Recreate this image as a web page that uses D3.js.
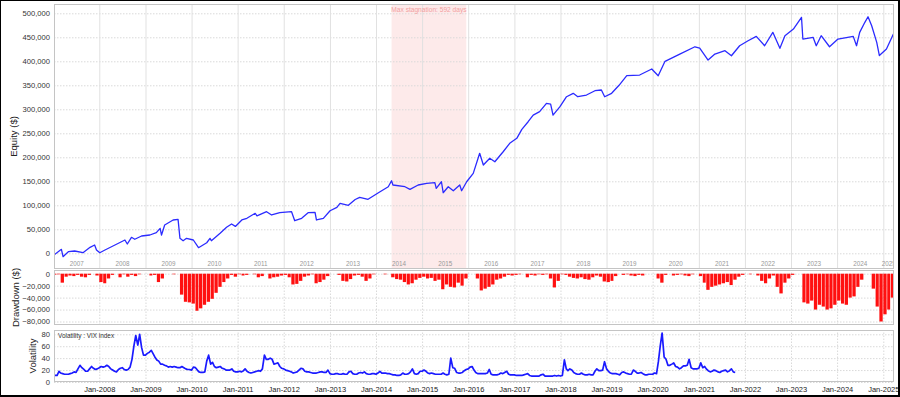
<!DOCTYPE html>
<html>
<head>
<meta charset="utf-8">
<script src="https://cdn.jsdelivr.net/npm/d3@7"></script>
<style>
body { margin: 0; background: #fff; }
svg { display: block; font-family: "Liberation Sans", Arial, sans-serif; }
</style>
</head>
<body>
<svg id="chart"></svg>
<script>
// equity curve: [date, equity $]
const equity = [
	['2007-01-07', -3500], ['2007-03-07', 8300], ['2007-03-20', -7000], ['2007-05-01', 3300], ['2007-06-20', 4800],
	['2007-08-25', 1200], ['2007-10-20', 12500], ['2007-11-25', 17300], ['2007-12-10', 6900], ['2008-01-05', 1200],
	['2008-02-15', 6900], ['2008-05-20', 19400], ['2008-07-22', 27700], ['2008-08-10', 19400], ['2008-09-12', 33300],
	['2008-10-08', 29200], ['2008-12-01', 36000], ['2009-02-05', 38100], ['2009-03-28', 43000], ['2009-04-27', 52000],
	['2009-05-08', 38100], ['2009-06-02', 59000], ['2009-08-08', 69400], ['2009-09-16', 70800], ['2009-10-01', 31200],
	['2009-10-26', 26200], ['2009-11-22', 31200], ['2010-01-15', 27700], ['2010-02-25', 11700], ['2010-05-01', 22000],
	['2010-05-27', 31200], ['2010-06-07', 26200], ['2010-08-15', 41700], ['2010-10-05', 54200], ['2010-11-14', 61000],
	['2010-12-14', 56000], ['2011-02-03', 69400], ['2011-03-15', 72900], ['2011-05-20', 83300], ['2011-06-03', 78000],
	['2011-08-18', 86700], ['2011-09-27', 79800], ['2011-12-01', 84600], ['2012-03-03', 86700], ['2012-03-28', 67900],
	['2012-05-22', 72900], ['2012-07-12', 84600], ['2012-09-05', 85400], ['2012-09-16', 69400], ['2012-11-10', 72900],
	['2013-01-02', 88700], ['2013-02-25', 95800], ['2013-03-22', 104000], ['2013-05-27', 100000], ['2013-07-20', 112000],
	['2013-08-25', 116600], ['2013-10-30', 112500], ['2014-01-20', 126200], ['2014-04-08', 138700], ['2014-05-04', 151200],
	['2014-05-15', 142300], ['2014-08-18', 138700], ['2014-09-27', 133300], ['2014-12-01', 142300], ['2015-02-06', 145800],
	['2015-04-12', 147100], ['2015-04-23', 135400], ['2015-06-03', 149100], ['2015-06-17', 126200], ['2015-07-27', 138700],
	['2015-09-05', 130400], ['2015-10-26', 142300], ['2015-11-10', 130400], ['2015-12-20', 149100], ['2016-02-10', 166600],
	['2016-04-01', 208300], ['2016-04-30', 183900], ['2016-06-20', 197900], ['2016-07-30', 190800], ['2016-10-04', 211600],
	['2016-11-25', 229100], ['2017-01-20', 239500], ['2017-03-01', 258300], ['2017-04-20', 274100], ['2017-05-30', 288000],
	['2017-07-20', 295000], ['2017-09-12', 312400], ['2017-10-15', 311000], ['2017-11-03', 288000], ['2017-12-28', 305400],
	['2018-02-18', 326200], ['2018-04-12', 333300], ['2018-05-18', 326200], ['2018-07-26', 329700], ['2018-10-01', 338700],
	['2018-11-21', 340200], ['2018-12-17', 326200], ['2019-02-10', 333300], ['2019-04-10', 350000], ['2019-06-10', 370000],
	['2019-09-20', 371400], ['2019-12-25', 383900], ['2020-02-14', 370000], ['2020-04-08', 400000], ['2020-08-03', 415100],
	['2020-12-01', 430300], ['2021-01-08', 427600], ['2021-03-15', 402600], ['2021-05-08', 415100], ['2021-07-27', 422000],
	['2021-09-16', 411600], ['2021-11-20', 432400], ['2022-01-26', 442800], ['2022-04-01', 452000], ['2022-06-06', 432400],
	['2022-08-10', 460300], ['2022-10-05', 427000], ['2022-11-14', 453300], ['2023-01-20', 467200], ['2023-03-25', 491600],
	['2023-04-05', 446400], ['2023-06-25', 449900], ['2023-07-20', 432400], ['2023-08-28', 453300], ['2023-11-02', 430300],
	['2024-01-08', 446400], ['2024-05-08', 452000], ['2024-06-03', 432400], ['2024-06-28', 460300], ['2024-08-08', 481200],
	['2024-09-02', 492800], ['2024-10-01', 474100], ['2024-11-10', 439500], ['2024-12-01', 412000], ['2025-01-26', 425500],
	['2025-03-22', 456800]
]

// monthly drawdown ($), one row per year, starting Jan 2007
const drawdownStart = '2007-01-01'
const drawdown = [
	-1500, -1000, -15000, -5000, -3000, -4000, -2000, -5000, -6000, -2000, 0, -3000,
	-14000, -16000, -8000, -2000, 0, -6000, -1000, -5000, -2000, -4000, -1000, 0,
	0, -3000, -2000, -14000, -8000, 0, 0, -1000, 0, -35000, -47000, -48000,
	-50000, -62000, -58000, -52000, -47000, -42000, -32000, -22000, -14000, -8000, -2000, -5000,
	-1000, -3000, -2000, 0, -1000, -6000, -4000, 0, -8000, -6000, -5000, -3000,
	-2000, -6000, -18000, -17000, -12000, -5000, -3000, -1000, -16000, -14000, -10000, -4000,
	0, 0, -2000, -12000, -13000, -9000, -3000, -2000, -5000, -12000, -8000, -1000,
	0, 0, -1000, 0, -6000, -9000, -10000, -14000, -18000, -16000, -10000, -7000,
	-5000, -8000, -7000, -12000, -10000, -26000, -18000, -22000, -23000, -15000, -20000, -8000,
	0, 0, -8000, -28000, -25000, -22000, -18000, -10000, -8000, -5000, -2000, -3000,
	-2000, -1000, 0, -6000, -2000, -3000, -1000, -2000, -1000, -8000, -23000, -12000,
	-1000, -2000, -5000, -7000, -8000, -6000, -9000, -10000, -6000, -3000, -5000, -13000,
	-14000, -12000, -4000, 0, -2000, -1000, -3000, -4000, -2000, -3000, 0, 0,
	0, -8000, -15000, -2000, 0, -3000, -2000, -1000, -3000, -4000, -1000, 0,
	-4000, -15000, -27000, -22000, -20000, -18000, -16000, -14000, -19000, -10000, -5000, -2000,
	0, -1000, 0, -3000, -12000, -16000, -8000, -3000, -22000, -33000, -15000, -8000,
	-2000, 0, 0, -48000, -50000, -45000, -60000, -52000, -55000, -60000, -58000, -52000,
	-45000, -50000, -52000, -40000, -38000, -22000, -10000, 0, 0, -25000, -55000, -80000,
	-68000, -60000, -40000
]

// VIX index, two readings a month (1st and 16th), one row per year, starting Jan 2007
const vixStart = '2007-01-01'
const vix = [
	11, 11, 11, 18, 15, 14, 13, 13, 13, 14, 15, 17, 16, 22, 28, 24, 21, 18, 18, 22, 26, 23, 21, 22,
	24, 26, 25, 26, 28, 26, 22, 20, 18, 17, 21, 23, 24, 21, 20, 21, 25, 38, 60, 78, 62, 80, 58, 45,
	45, 48, 50, 53, 48, 42, 37, 35, 30, 30, 28, 27, 25, 26, 25, 26, 25, 24, 24, 26, 24, 22, 21, 21,
	20, 25, 24, 20, 17, 16, 16, 17, 35, 45, 30, 33, 26, 24, 25, 26, 23, 22, 20, 20, 20, 22, 18, 17,
	17, 18, 17, 19, 22, 18, 16, 15, 16, 17, 18, 19, 18, 22, 45, 38, 38, 40, 38, 30, 31, 32, 26, 23,
	22, 20, 19, 18, 17, 15, 16, 17, 20, 23, 22, 18, 17, 17, 16, 15, 15, 15, 16, 17, 17, 16, 16, 20,
	14, 13, 13, 14, 14, 13, 13, 14, 13, 13, 17, 18, 14, 13, 13, 15, 16, 15, 17, 14, 13, 13, 14, 14,
	13, 15, 18, 15, 15, 15, 14, 14, 13, 12, 12, 11, 11, 12, 15, 13, 13, 14, 17, 22, 14, 13, 14, 18,
	18, 20, 18, 15, 14, 15, 14, 13, 13, 13, 13, 15, 13, 12, 13, 40, 24, 23, 16, 15, 15, 16, 19, 21,
	22, 25, 26, 20, 16, 14, 14, 14, 14, 14, 15, 21, 13, 12, 12, 12, 13, 15, 14, 16, 18, 13, 12, 12,
	12, 11, 11, 11, 11, 12, 13, 14, 11, 10, 10, 10, 10, 10, 12, 13, 10, 10, 10, 10, 10, 11, 10, 11,
	10, 11, 37, 22, 19, 22, 20, 16, 14, 13, 13, 15, 13, 12, 12, 13, 12, 12, 18, 22, 19, 19, 20, 34,
	22, 18, 15, 14, 14, 14, 13, 12, 16, 17, 15, 14, 13, 13, 20, 18, 15, 15, 16, 14, 12, 12, 13, 13,
	13, 15, 14, 35, 60, 82, 42, 38, 28, 28, 30, 32, 26, 25, 22, 24, 27, 27, 28, 38, 24, 22, 22, 22,
	23, 32, 24, 26, 22, 19, 17, 18, 20, 19, 17, 16, 18, 19, 20, 17, 19, 22, 17, 16
]

const eqTicks = [0, 50000, 100000, 150000, 200000, 250000, 300000, 350000, 400000, 450000, 500000]
const ddTicks = [0, -20000, -40000, -60000, -80000]
const vixTicks = [0, 20, 40, 60, 80]
const stagnation = ['2014-05-04', '2015-12-17']
const stagnationLabel = 'Max stagnation: 592 days'

const parseDate = d3.timeParse('%Y-%m-%d')
const svg = d3.select('#chart').attr('width', 900).attr('height', 397)
const L = 54, R = 894
const panels = {
	eq: { top: 4, bottom: 269 },
	dd: { top: 270, bottom: 325 },
	vol: { top: 330, bottom: 382 }
}

const x = d3.scaleTime()
	.domain([new Date(2007, 0, 1), new Date(2025, 0, 1)])
	.range([53.2, 883.3])
const yEq = d3.scaleLinear().domain([0, 500000]).range([253.3, 13.3])
const yDd = d3.scaleLinear().domain([-80000, 0]).range([321.5, 273.7])
const yVol = d3.scaleLinear().domain([0, 80]).range([382, 334.3])

const jans = d3.timeYear.range(new Date(2008, 0, 1), new Date(2025, 0, 2))
const fmt = d3.format(',')

svg.append('rect').attr('width', 900).attr('height', 397).attr('fill', '#fff')

// clip paths, one per panel
const defs = svg.append('defs')
Object.entries(panels).forEach(([k, p]) => {
	defs.append('clipPath').attr('id', 'clip-' + k)
		.append('rect').attr('x', L).attr('y', p.top).attr('width', R - L).attr('height', p.bottom - p.top)
})

// stagnation band
const band = svg.append('g').attr('clip-path', 'url(#clip-eq)')
band.append('rect')
	.attr('x', x(parseDate(stagnation[0])))
	.attr('width', x(parseDate(stagnation[1])) - x(parseDate(stagnation[0])))
	.attr('y', panels.eq.top).attr('height', panels.eq.bottom - panels.eq.top)
	.attr('fill', '#fdeaea')

// grids
function hGrid(scale, ticks, p) {
	svg.append('g').attr('transform', `translate(${L},0)`)
		.call(d3.axisLeft(scale).tickValues(ticks).tickSize(-(R - L)).tickFormat(''))
		.call(g => g.select('.domain').remove())
		.call(g => g.selectAll('line').attr('stroke', '#d9d9d9').attr('stroke-dasharray', '1.5,1.5'))
}
function vGrid(p, dashed) {
	svg.append('g').attr('transform', `translate(0,${p.bottom})`)
		.call(d3.axisBottom(x).tickValues(jans).tickSize(-(p.bottom - p.top)).tickFormat(''))
		.call(g => g.select('.domain').remove())
		.call(g => g.selectAll('line').attr('stroke', dashed ? '#d9d9d9' : '#e1e1e1')
			.attr('stroke-dasharray', dashed ? '1.5,1.5' : null))
}
hGrid(yEq, eqTicks, panels.eq)
vGrid(panels.eq, false)
hGrid(yDd, ddTicks, panels.dd)
vGrid(panels.dd, true)
hGrid(yVol, vixTicks, panels.vol)
vGrid(panels.vol, true)

// year labels inside the equity panel
const yearStarts = d3.timeYear.range(new Date(2007, 0, 1), new Date(2025, 0, 2))
const endDate = x.invert(R), startDate = x.invert(L)
svg.append('g').attr('clip-path', 'url(#clip-eq)')
	.selectAll('text').data(yearStarts).join('text')
	.attr('x', d => {
		const a = d3.max([d, startDate]), b = d3.min([d3.timeYear.offset(d, 1), endDate])
		return (x(a) + x(b)) / 2
	})
	.attr('y', 266)
	.attr('text-anchor', 'middle')
	.attr('font-size', 6.3)
	.attr('fill', '#999')
	.text(d => d.getFullYear())

// stagnation label
svg.append('text')
	.attr('x', (x(parseDate(stagnation[0])) + x(parseDate(stagnation[1]))) / 2)
	.attr('y', 12)
	.attr('text-anchor', 'middle')
	.attr('font-size', 6.6)
	.attr('fill', '#f2a0a0')
	.text(stagnationLabel)

// equity line
const eqLine = d3.line()
	.x(d => x(parseDate(d[0])))
	.y(d => yEq(d[1]))
svg.append('path')
	.datum(equity)
	.attr('clip-path', 'url(#clip-eq)')
	.attr('fill', 'none')
	.attr('stroke', '#2b2bff')
	.attr('stroke-width', 1.3)
	.attr('stroke-linejoin', 'round')
	.attr('d', eqLine)

// drawdown bars
const ddStart = parseDate(drawdownStart)
svg.append('g').attr('clip-path', 'url(#clip-dd)')
	.selectAll('rect').data(drawdown).join('rect')
	.attr('x', (d, i) => x(d3.timeMonth.offset(ddStart, i)))
	.attr('width', (d, i) => x(d3.timeMonth.offset(ddStart, i + 1)) - x(d3.timeMonth.offset(ddStart, i)) - 0.6)
	.attr('y', yDd(0))
	.attr('height', d => yDd(d) - yDd(0))
	.attr('fill', '#ff1010')

// vix line
const vStart = parseDate(vixStart)
const vixDate = i => d3.timeDay.offset(d3.timeMonth.offset(vStart, Math.floor(i / 2)), (i % 2) * 15)
const vixLine = d3.line()
	.x((d, i) => x(vixDate(i)))
	.y(d => yVol(d))
svg.append('path')
	.datum(vix)
	.attr('clip-path', 'url(#clip-vol)')
	.attr('fill', 'none')
	.attr('stroke', '#1a1aff')
	.attr('stroke-width', 1.7)
	.attr('stroke-linejoin', 'round')
	.attr('d', vixLine)

svg.append('text')
	.attr('x', 58).attr('y', 338)
	.attr('font-size', 6.4).attr('fill', '#333')
	.text('Volatility : VIX index')

// panel frames
Object.values(panels).forEach(p => {
	svg.append('rect')
		.attr('x', L + 0.5).attr('y', p.top + 0.5)
		.attr('width', R - L - 1).attr('height', p.bottom - p.top - 1)
		.attr('fill', 'none').attr('stroke', '#c4c4c4')
})

// y axes labels
function yLabels(scale, ticks, f) {
	svg.append('g').attr('transform', `translate(${L - 2},0)`)
		.call(d3.axisLeft(scale).tickValues(ticks).tickSize(0).tickPadding(2).tickFormat(f))
		.call(g => g.select('.domain').remove())
		.call(g => g.selectAll('text').attr('font-size', 7.6).attr('fill', '#333')
			.attr('font-family', '"Liberation Sans", Arial, sans-serif'))
}
yLabels(yEq, eqTicks, fmt)
yLabels(yDd, ddTicks, fmt)
yLabels(yVol, vixTicks, d3.format('d'))

// bottom time axis
svg.append('g').attr('transform', `translate(0,${panels.vol.bottom + 1})`)
	.call(d3.axisBottom(x).tickValues(jans).tickSize(0).tickPadding(4).tickFormat(d3.timeFormat('Jan-%Y')))
	.call(g => g.select('.domain').remove())
	.call(g => g.selectAll('text').attr('font-size', 7.5).attr('fill', '#222')
		.attr('font-family', '"Liberation Sans", Arial, sans-serif'))

// axis titles
const titles = [
	['Equity ($)', 13.5, (panels.eq.top + panels.eq.bottom) / 2],
	['Drawdown ($)', 16, (panels.dd.top + panels.dd.bottom) / 2],
	['Volatility', 33, (panels.vol.top + panels.vol.bottom) / 2]
]
svg.selectAll('.title').data(titles).join('text')
	.attr('class', 'title')
	.attr('transform', d => `translate(${d[1]},${d[2]}) rotate(-90)`)
	.attr('dy', '0.35em')
	.attr('text-anchor', 'middle')
	.attr('font-size', 9.5)
	.attr('fill', '#222')
	.text(d => d[0])

// outer black frame
svg.append('rect')
	.attr('x', 0).attr('y', 0).attr('width', 899).attr('height', 396)
	.attr('fill', 'none').attr('stroke', '#000').attr('stroke-width', 2)
</script>
</body>
</html>
